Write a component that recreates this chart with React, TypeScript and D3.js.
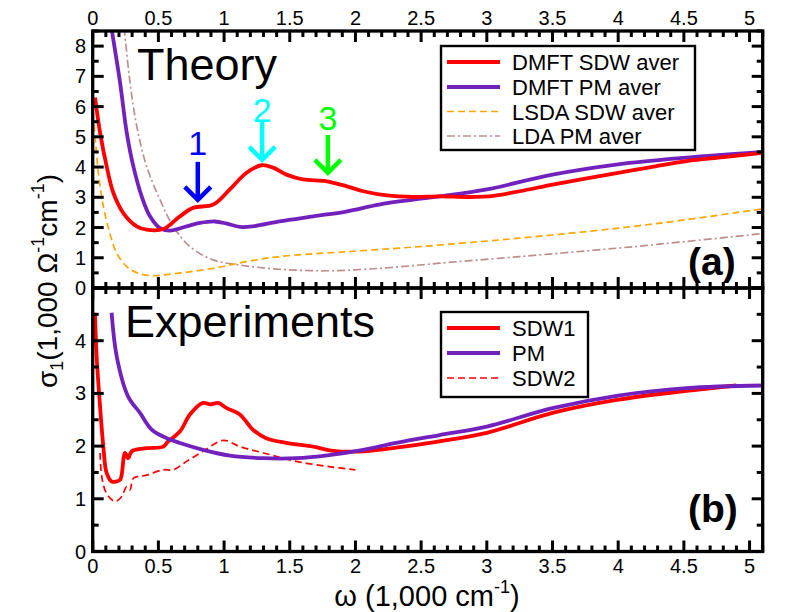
import React from "react";
import * as d3 from "d3";

// ---------- DATA ----------
// Panel (a) Theory
const dmftSdwX = [0.018, 0.056, 0.106, 0.157, 0.233, 0.335, 0.41, 0.537, 0.664, 0.765, 0.917, 1.044, 1.171, 1.285, 1.373, 1.475, 1.6, 1.78, 1.93, 2.06, 2.24, 2.44, 2.64, 2.87, 3.05, 3.25, 3.5, 3.75, 4.0, 4.25, 4.52, 4.8, 5.1];
const dmftSdwY = [6.3, 5.14, 4.03, 3.15, 2.48, 2.04, 1.93, 1.95, 2.37, 2.65, 2.76, 3.26, 3.81, 4.06, 3.98, 3.75, 3.59, 3.53, 3.37, 3.2, 3.06, 3.01, 3.03, 3.01, 3.05, 3.2, 3.42, 3.62, 3.81, 4.0, 4.2, 4.33, 4.47];

const dmftPmX = [0.12, 0.208, 0.259, 0.309, 0.373, 0.436, 0.512, 0.588, 0.715, 0.816, 0.93, 1.02, 1.12, 1.22, 1.42, 1.68, 1.93, 2.18, 2.44, 2.64, 3.0, 3.5, 4.0, 4.52, 5.1];
const dmftPmY = [9.2, 6.8, 5.14, 4.03, 3.03, 2.37, 1.98, 1.9, 2.04, 2.15, 2.2, 2.13, 2.02, 2.04, 2.2, 2.37, 2.53, 2.76, 2.92, 3.03, 3.26, 3.75, 4.09, 4.31, 4.5];

const lsdaSdwX = [0.012, 0.043, 0.081, 0.13, 0.183, 0.259, 0.36, 0.46, 0.613, 0.917, 1.17, 1.42, 1.93, 2.49, 3.25, 4.0, 4.52, 5.1];
const lsdaSdwY = [5.4, 3.81, 2.7, 1.82, 1.15, 0.71, 0.47, 0.41, 0.47, 0.65, 0.87, 1.04, 1.2, 1.37, 1.65, 1.98, 2.26, 2.62];

const ldaPmX = [0.24, 0.284, 0.335, 0.41, 0.512, 0.613, 0.74, 0.917, 1.12, 1.42, 1.8, 2.18, 2.49, 2.64, 3.25, 4.0, 4.52, 5.1];
const ldaPmY = [8.6, 6.8, 5.36, 4.03, 2.92, 2.04, 1.37, 0.93, 0.76, 0.62, 0.57, 0.65, 0.76, 0.82, 1.04, 1.32, 1.54, 1.8];

// Panel (b) Experiments
const sdw1X = [0.017, 0.03, 0.056, 0.081, 0.106, 0.144, 0.208, 0.22, 0.246, 0.27, 0.297, 0.41, 0.537, 0.575, 0.665, 0.74, 0.84, 0.893, 0.955, 1.02, 1.12, 1.22, 1.32, 1.475, 1.68, 1.83, 2.06, 2.31, 2.64, 3.0, 3.5, 4.0, 4.52, 4.9];
const sdw1Y = [4.53, 3.7, 2.75, 1.99, 1.49, 1.33, 1.36, 1.45, 1.87, 1.77, 1.9, 1.96, 1.99, 2.09, 2.28, 2.6, 2.82, 2.79, 2.82, 2.72, 2.6, 2.31, 2.15, 2.06, 1.99, 1.91, 1.9, 1.97, 2.09, 2.25, 2.63, 2.88, 3.05, 3.15];

const pmX = [0.144, 0.183, 0.27, 0.36, 0.45, 0.564, 0.664, 0.84, 1.044, 1.3, 1.55, 1.8, 2.06, 2.31, 2.64, 3.0, 3.5, 4.0, 4.52, 5.1];
const pmY = [4.53, 3.7, 2.94, 2.63, 2.31, 2.15, 2.06, 1.93, 1.82, 1.77, 1.77, 1.83, 1.93, 2.06, 2.21, 2.37, 2.72, 2.96, 3.1, 3.15];

const sdw2X = [0.056, 0.069, 0.106, 0.17, 0.22, 0.259, 0.284, 0.31, 0.41, 0.537, 0.613, 0.715, 0.84, 0.995, 1.12, 1.3, 1.55, 1.8, 2.0];
const sdw2Y = [1.87, 1.42, 1.1, 0.95, 1.04, 1.23, 1.17, 1.39, 1.45, 1.55, 1.55, 1.71, 1.9, 2.11, 1.99, 1.87, 1.71, 1.61, 1.55];

// Annotations (panel a)
const arrowLabels = ["1", "2", "3"];
const arrowX = [0.8, 1.29, 1.79];
const arrowTipY = [2.85, 4.17, 3.74];
const arrowColors = ["#0000ff", "#00ffff", "#00ff00"];

// Tick values
const xMajor = [0, 0.5, 1, 1.5, 2, 2.5, 3, 3.5, 4, 4.5, 5];
const xTickLabels = ["0", "0.5", "1", "1.5", "2", "2.5", "3", "3.5", "4", "4.5", "5"];
const yaMajor = [0, 1, 2, 3, 4, 5, 6, 7, 8];
const ybMajor = [0, 1, 2, 3, 4, 5];
const ybLabels = ["0", "1", "2", "3", "4", ""];

const legendA = ["DMFT SDW aver", "DMFT PM aver", "LSDA SDW aver", "LDA PM aver"];
const legendB = ["SDW1", "PM", "SDW2"];

// ---------- STYLES ----------
const RED = "#ff0000";
const INDIGO = "#7221bc";
const ORANGE = "#ffa500";
const ROSY = "#bc8f8f";
const FONT = "'Liberation Sans', Arial, Helvetica, sans-serif";

const L = 92.7, R = 762.7, TOP = 31, MID = 288, BOT = 551.5;

export default function App() {
  const x = d3.scaleLinear().domain([0, 5.1]).range([L, R]);
  const ya = d3.scaleLinear().domain([0, 8.5]).range([MID, TOP]);
  const yb = d3.scaleLinear().domain([0, 5]).range([BOT, MID]);

  const mk = (ys: d3.ScaleLinear<number, number>) =>
    d3
      .line<[number, number]>()
      .x((d) => x(d[0]))
      .y((d) => ys(d[1]))
      .curve(d3.curveCatmullRom.alpha(0.5));
  const la = mk(ya);
  const lb = mk(yb);
  const zip = (xs: number[], ys: number[]) => xs.map((v, i) => [v, ys[i]] as [number, number]);

  const xMinor = d3.range(0, 5.1001, 0.1).map((v) => Math.round(v * 10) / 10);
  const yaMinor = d3.range(0, 8.5001, 0.5);
  const ybMinor = d3.range(0, 5.0001, 0.5);

  const MAJ = 11, MIN = 6;
  const isMajorX = (v: number) => Math.abs(v * 2 - Math.round(v * 2)) < 1e-6;
  const isInt = (v: number) => Math.abs(v - Math.round(v)) < 1e-6;

  const ticks: JSX.Element[] = [];
  xMinor.forEach((v, i) => {
    const len = isMajorX(v) ? MAJ : MIN;
    const px = x(v);
    ticks.push(<line key={"xt" + i} x1={px} x2={px} y1={TOP} y2={TOP + len} />);
    ticks.push(<line key={"xm1" + i} x1={px} x2={px} y1={MID} y2={MID - len} />);
    ticks.push(<line key={"xm2" + i} x1={px} x2={px} y1={MID} y2={MID + len} />);
    ticks.push(<line key={"xb" + i} x1={px} x2={px} y1={BOT} y2={BOT - len} />);
  });
  yaMinor.forEach((v, i) => {
    const len = isInt(v) ? MAJ : MIN;
    const py = ya(v);
    ticks.push(<line key={"yal" + i} x1={L} x2={L + len} y1={py} y2={py} />);
    ticks.push(<line key={"yar" + i} x1={R} x2={R - len} y1={py} y2={py} />);
  });
  ybMinor.forEach((v, i) => {
    const len = isInt(v) ? MAJ : MIN;
    const py = yb(v);
    ticks.push(<line key={"ybl" + i} x1={L} x2={L + len} y1={py} y2={py} />);
    ticks.push(<line key={"ybr" + i} x1={R} x2={R - len} y1={py} y2={py} />);
  });

  const legendRowA = [62, 87, 111.5, 136];
  const legendRowB = [328, 353, 378];

  return (
    <svg
      width={792}
      height={612}
      style={{ position: "absolute", left: 0, top: 0, background: "#fff" }}
      fontFamily={FONT}
    >
      <defs>
        <clipPath id="clipA">
          <rect x={L} y={TOP} width={R - L} height={MID - TOP} />
        </clipPath>
        <clipPath id="clipB">
          <rect x={L} y={MID} width={R - L} height={BOT - MID} />
        </clipPath>
      </defs>
      <rect x={0} y={0} width={792} height={612} fill="#fff" />

      {/* Panel a curves */}
      <g clipPath="url(#clipA)" fill="none">
        <path d={la(zip(ldaPmX, ldaPmY)) || ""} stroke={ROSY} strokeWidth={1.7} strokeDasharray="8,3,2,3" />
        <path d={la(zip(lsdaSdwX, lsdaSdwY)) || ""} stroke={ORANGE} strokeWidth={1.7} strokeDasharray="7,4" />
        <path d={la(zip(dmftPmX, dmftPmY)) || ""} stroke={INDIGO} strokeWidth={3.8} />
        <path d={la(zip(dmftSdwX, dmftSdwY)) || ""} stroke={RED} strokeWidth={3.8} />
      </g>

      {/* Panel b curves */}
      <g clipPath="url(#clipB)" fill="none">
        <path d={lb(zip(sdw2X, sdw2Y)) || ""} stroke={RED} strokeWidth={1.7} strokeDasharray="7,4" />
        <path d={lb(zip(sdw1X, sdw1Y)) || ""} stroke={RED} strokeWidth={3.8} />
        <path d={lb(zip(pmX, pmY)) || ""} stroke={INDIGO} strokeWidth={3.8} />
      </g>

      {/* Arrows */}
      {arrowLabels.map((lab, i) => {
        const px = x(arrowX[i]);
        const tip = ya(arrowTipY[i]);
        const tail = tip - 40;
        return (
          <g key={"arr" + i} stroke={arrowColors[i]} fill="none" strokeWidth={4.5}>
            <line x1={px} x2={px} y1={tail} y2={tip - 2} />
            <polyline points={`${px - 13},${tip - 15} ${px},${tip - 2} ${px + 13},${tip - 15}`} />
            <text
              x={px}
              y={tail - (i === 0 ? 7 : 0) + (i === 2 ? -5 : 0)}
              textAnchor="middle"
              fontSize={34}
              fill={arrowColors[i]}
              stroke="none"
            >
              {lab}
            </text>
          </g>
        );
      })}

      {/* Frames */}
      <g stroke="#000" strokeWidth={3} strokeLinecap="butt">
        {ticks}
      </g>
      <rect x={L} y={TOP} width={R - L} height={MID - TOP} fill="none" stroke="#000" strokeWidth={3.3} />
      <rect x={L} y={MID} width={R - L} height={BOT - MID} fill="none" stroke="#000" strokeWidth={3.3} />

      {/* Tick labels */}
      <g fontSize={20} fill="#000">
        {xMajor.map((v, i) => (
          <text key={"xlt" + i} x={x(v)} y={25} textAnchor="middle">
            {xTickLabels[i]}
          </text>
        ))}
        {xMajor.map((v, i) => (
          <text key={"xlb" + i} x={x(v)} y={573} textAnchor="middle">
            {xTickLabels[i]}
          </text>
        ))}
        {yaMajor.map((v, i) => (
          <text key={"yla" + i} x={86} y={ya(v) + 7} textAnchor="end">
            {String(v)}
          </text>
        ))}
        {ybMajor.map((v, i) =>
          ybLabels[i] ? (
            <text key={"ylb" + i} x={86} y={yb(v) + 7} textAnchor="end">
              {ybLabels[i]}
            </text>
          ) : null
        )}
      </g>

      {/* Axis labels */}
      <text x={427} y={606} textAnchor="middle" fontSize={29} fill="#000">
        ω (1,000 cm<tspan fontSize={18} dy={-13}>-1</tspan>
        <tspan fontSize={29} dy={13}>)</tspan>
      </text>
      <text transform="translate(57,281) rotate(-90)" textAnchor="middle" fontSize={28} fill="#000">
        σ<tspan fontSize={18} dy={6}>1</tspan>
        <tspan fontSize={28} dy={-6}>(1,000 Ω</tspan>
        <tspan fontSize={18} dy={-13}>-1</tspan>
        <tspan fontSize={28} dy={13}>cm</tspan>
        <tspan fontSize={18} dy={-13}>-1</tspan>
        <tspan fontSize={28} dy={13}>)</tspan>
      </text>

      {/* Panel titles */}
      <text x={137} y={80} fontSize={45} fill="#000">Theory</text>
      <text x={125} y={337} fontSize={45} fill="#000">Experiments</text>
      <text x={688} y={275} fontSize={39} fontWeight="bold" fill="#000">(a)</text>
      <text x={688} y={522} fontSize={39} fontWeight="bold" fill="#000">(b)</text>

      {/* Legend a */}
      <rect x={441} y={46} width={254} height={104} fill="#fff" stroke="#000" strokeWidth={2.4} />
      {legendA.map((lab, i) => {
        const styles = [
          { c: RED, w: 4, d: "" },
          { c: INDIGO, w: 4, d: "" },
          { c: ORANGE, w: 1.7, d: "7,4" },
          { c: ROSY, w: 1.7, d: "8,3,2,3" },
        ][i];
        const yy = legendRowA[i];
        return (
          <g key={"lga" + i}>
            <line x1={447} x2={500} y1={yy} y2={yy} stroke={styles.c} strokeWidth={styles.w} strokeDasharray={styles.d || undefined} />
            <text x={512} y={yy + 8} fontSize={22} fill="#000">{lab}</text>
          </g>
        );
      })}

      {/* Legend b */}
      <rect x={441} y={312} width={147} height={85} fill="#fff" stroke="#000" strokeWidth={2.4} />
      {legendB.map((lab, i) => {
        const styles = [
          { c: RED, w: 4, d: "" },
          { c: INDIGO, w: 4, d: "" },
          { c: RED, w: 1.7, d: "7,4" },
        ][i];
        const yy = legendRowB[i];
        return (
          <g key={"lgb" + i}>
            <line x1={447} x2={500} y1={yy} y2={yy} stroke={styles.c} strokeWidth={styles.w} strokeDasharray={styles.d || undefined} />
            <text x={512} y={yy + 8} fontSize={22} fill="#000">{lab}</text>
          </g>
        );
      })}
    </svg>
  );
}
